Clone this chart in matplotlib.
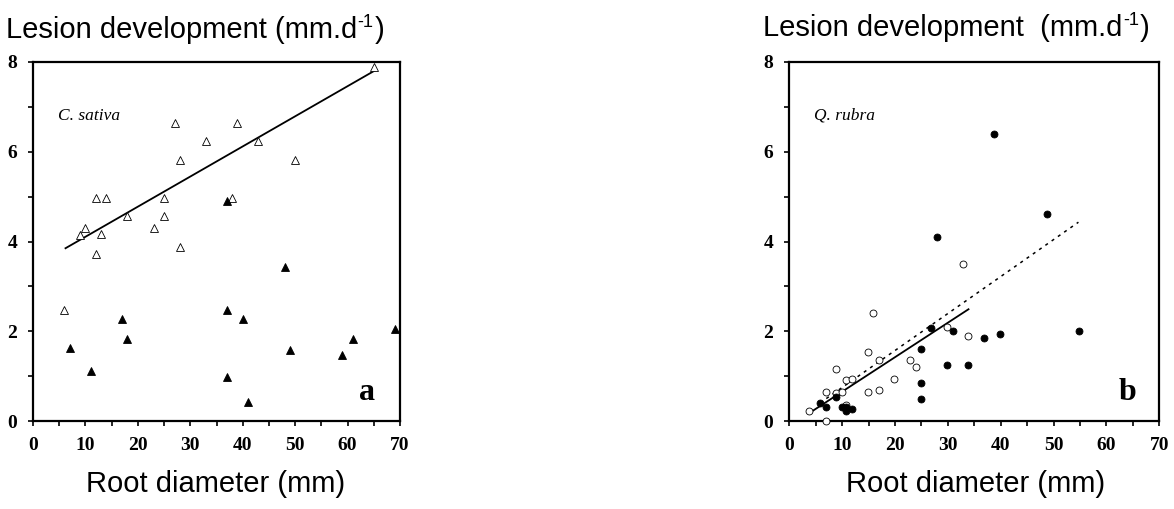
import matplotlib
matplotlib.use("Agg")
import matplotlib.pyplot as plt
from matplotlib.ticker import MultipleLocator

# panel a : C. sativa (open / filled triangles)
cs_open_x = [6, 9, 10, 12, 12, 13, 14, 18, 23, 25, 25, 27, 28, 28, 33, 38, 39, 43, 50, 65]
cs_open_y = [2.47, 4.14, 4.31, 4.98, 3.72, 4.16, 4.98, 4.57, 4.31, 4.98, 4.57, 6.64,
             5.82, 3.88, 6.24, 4.98, 6.64, 6.24, 5.82, 7.89]
cs_fill_x = [7, 11, 17, 18, 37, 37, 37, 40, 41, 48, 49, 59, 61, 69]
cs_fill_y = [1.63, 1.12, 2.28, 1.82, 4.90, 2.47, 0.97, 2.28, 0.42, 3.44, 1.59, 1.47, 1.82, 2.05]
cs_fit_x = [6.2, 65.2]
cs_fit_y = [3.85, 7.81]

# panel b : Q. rubra (open / filled circles)
qr_open_x = [3.8, 6.9, 6.9, 8.8, 8.8, 9.9, 10.8, 10.8, 11.9, 14.9, 14.9, 15.8, 16.9, 16.9,
             19.9, 22.9, 23.9, 29.9, 32.9, 33.9]
qr_open_y = [0.22, 0.65, 0.0, 1.15, 0.62, 0.65, 0.92, 0.36, 0.94, 1.54, 0.65, 2.40, 1.37, 0.69,
             0.94, 1.37, 1.21, 2.10, 3.50, 1.90]
qr_fill_x = [5.9, 6.9, 8.9, 9.9, 10.8, 10.8, 11.9, 24.9, 24.9, 24.9, 26.9, 27.9, 29.9, 30.9,
             33.9, 36.8, 39.8, 38.8, 48.8, 54.9]
qr_fill_y = [0.39, 0.31, 0.54, 0.31, 0.31, 0.22, 0.26, 1.61, 0.84, 0.49, 2.08, 4.09, 1.24, 2.00,
             1.24, 1.85, 1.93, 6.39, 4.62, 2.00]
qr_fit_x = [4.35, 33.9]
qr_fit_y = [0.22, 2.49]
qr_dot_x = [7.0, 54.7]
qr_dot_y = [0.50, 4.43]

titles = ["Lesion development (mm.d", "Lesion development  (mm.d"]
title_sup = "-1"
xlabel = "Root diameter (mm)"

plt.rcParams['font.family'] = ['Liberation Sans', 'DejaVu Sans']

W, H = 1174, 509
fig = plt.figure(figsize=(W / 100, H / 100), dpi=100)

ax_a = fig.add_axes([33 / W, 1 - 421 / H, 367 / W, 359 / H])
ax_b = fig.add_axes([789.3 / W, 1 - 421 / H, 370 / W, 359 / H])


def style_axes(ax):
    ax.set_xlim(0, 70)
    ax.set_ylim(0, 8)
    ax.xaxis.set_major_locator(MultipleLocator(10))
    ax.xaxis.set_minor_locator(MultipleLocator(5))
    ax.yaxis.set_major_locator(MultipleLocator(2))
    ax.yaxis.set_minor_locator(MultipleLocator(1))
    for s in ax.spines.values():
        s.set_linewidth(1.6)
    ax.tick_params(which='both', direction='out', length=3.5, width=1.2)
    ax.tick_params(axis='y', pad=8)
    ax.tick_params(axis='x', pad=8)
    for lab in ax.get_xticklabels() + ax.get_yticklabels():
        lab.set_fontfamily('Liberation Serif')
        lab.set_fontweight('bold')
        lab.set_fontsize(14)


# panel a
ax_a.plot(cs_fit_x, cs_fit_y, color='black', lw=1.3, zorder=2)
ax_a.plot(cs_open_x, cs_open_y, linestyle='none', marker='^', ms=5.5,
          mfc='white', mec='black', mew=0.6, zorder=3, clip_on=False)
ax_a.plot(cs_fill_x, cs_fill_y, linestyle='none', marker='^', ms=5.5,
          mfc='black', mec='black', mew=0.6, zorder=3, clip_on=False)
ax_a.text(4.8, 6.8, "C. sativa", family='Liberation Serif', style='italic',
          size=12.5, va='center')
ax_a.text(0.91, 0.058, "a", transform=ax_a.transAxes, family='Liberation Serif',
          weight='bold', size=23, ha='center', va='baseline')
style_axes(ax_a)

# panel b
ax_b.plot(qr_dot_x, qr_dot_y, color='black', lw=1.1, linestyle=(0, (2, 3)), zorder=2)
ax_b.plot(qr_fit_x, qr_fit_y, color='black', lw=1.3, zorder=2)
ax_b.plot(qr_open_x, qr_open_y, linestyle='none', marker='o', ms=5,
          mfc='white', mec='black', mew=0.6, zorder=3, clip_on=False)
ax_b.plot(qr_fill_x, qr_fill_y, linestyle='none', marker='o', ms=5,
          mfc='black', mec='black', mew=0.6, zorder=3, clip_on=False)
ax_b.text(4.7, 6.8, "Q. rubra", family='Liberation Serif', style='italic',
          size=12.5, va='center')
ax_b.text(0.913, 0.058, "b", transform=ax_b.transAxes, family='Liberation Serif',
          weight='bold', size=23, ha='center', va='baseline')
style_axes(ax_b)


# header with a superscript, built from plain text pieces
def header(x_px, y_px, txt, size=21):
    renderer = fig.canvas.get_renderer()
    t = fig.text(x_px / W, 1 - y_px / H, txt, size=size, va='baseline', ha='left')
    x1 = t.get_window_extent(renderer).x1
    s = fig.text(x1 / W + 0.5 / W, 1 - (y_px - 11) / H, title_sup, size=size * 0.62,
                 va='baseline', ha='left')
    x2 = s.get_window_extent(renderer).x1
    fig.text(x2 / W + 1 / W, 1 - y_px / H, ")", size=size, va='baseline', ha='left')


header(6, 38, titles[0])
header(763, 36, titles[1])
fig.text(216 / W, 1 - 492 / H, xlabel, size=21, va='baseline', ha='center')
fig.text(976 / W, 1 - 492 / H, xlabel, size=21, va='baseline', ha='center')

fig.savefig("out.png", dpi=100)
